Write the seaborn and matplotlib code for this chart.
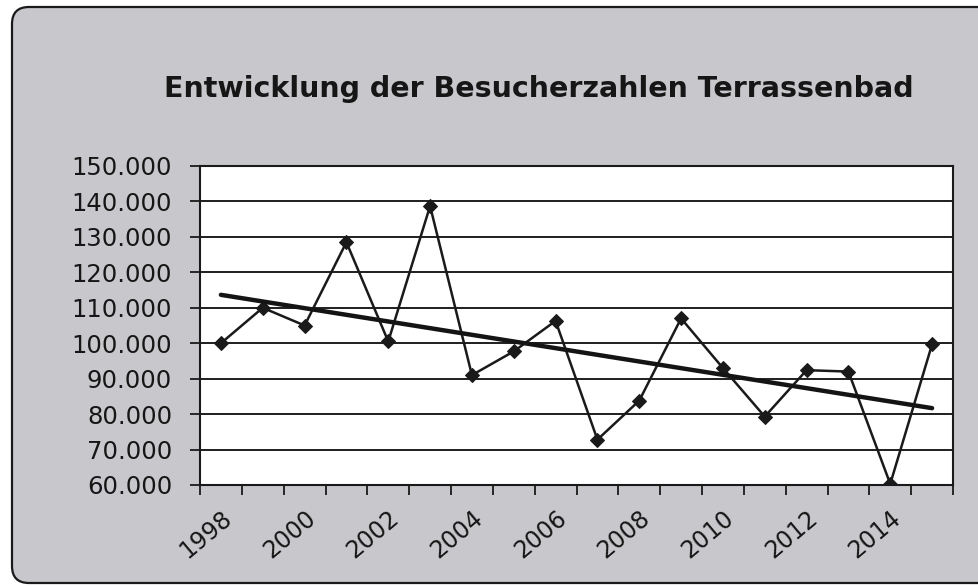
import numpy as np
import pandas as pd
import matplotlib
matplotlib.use("Agg")
import matplotlib.pyplot as plt
from matplotlib.patches import FancyBboxPatch
from matplotlib.ticker import FuncFormatter, FixedLocator, NullFormatter
import seaborn as sns

years = list(range(1998, 2016))
visitors = [100000, 110000, 105000, 128500, 100500, 138700, 91000, 97700, 106300,
            72800, 83800, 107000, 93000, 79300, 92400, 92000, 60300, 99700]
label_years = list(range(1998, 2015, 2))
title = "Entwicklung der Besucherzahlen Terrassenbad"

df = pd.DataFrame({"Jahr": years, "Besucher": visitors})

sns.set_style("white")
plt.rcParams["font.family"] = ["DejaVu Sans"]

fig = plt.figure(figsize=(9.79, 5.86), dpi=100)
fig.patch.set_facecolor("white")

# grey rounded chart area, as in the Excel screenshot
box = FancyBboxPatch((0.12, 0.03), 9.85, 5.76,
                     boxstyle="round,pad=0,rounding_size=0.17",
                     transform=fig.dpi_scale_trans,
                     facecolor="#c8c8cc", edgecolor="#1a1a1a", lw=1.6, zorder=-10)
fig.patches.append(box)

ax = fig.add_axes([200 / 979, 1 - 485 / 586, 753 / 979, 319 / 586])
ax.set_facecolor("white")

sns.lineplot(data=df, x="Jahr", y="Besucher", marker="D", markersize=7.5,
             color="#1a1a1a", linewidth=1.8, markeredgecolor="#1a1a1a", ax=ax)
sns.regplot(data=df, x="Jahr", y="Besucher", scatter=False, ci=None,
            line_kws={"color": "#141414", "linewidth": 3.2}, ax=ax)

ax.set_xlim(1997.5, 2015.5)
ax.set_ylim(60000, 150000)
ax.set_yticks(np.arange(60000, 150001, 10000))
ax.yaxis.set_major_formatter(FuncFormatter(lambda v, p: f"{int(v):,}".replace(",", ".")))
ax.yaxis.grid(True, color="#1e1e1e", linewidth=1.4)
ax.set_axisbelow(True)

# category boundaries get the tick marks, the labels sit on every second year
ax.xaxis.set_major_locator(FixedLocator(np.arange(1997.5, 2016, 1.0)))
ax.xaxis.set_major_formatter(NullFormatter())
ax.xaxis.set_minor_locator(FixedLocator(label_years))
ax.set_xticks(label_years, [str(y) for y in label_years], minor=True)

ax.tick_params(axis="y", which="major", direction="out", length=7, width=1.3,
               color="#1a1a1a", pad=13, labelsize=17.5, labelcolor="#161616", left=True)
ax.tick_params(axis="x", which="major", direction="out", length=7, width=1.3,
               color="#1a1a1a", bottom=True)
ax.tick_params(axis="x", which="minor", length=0, pad=15, labelsize=17,
               labelcolor="#161616", bottom=True)
for lab in ax.get_xticklabels(minor=True):
    lab.set_rotation(40)
    lab.set_ha("right")
    lab.set_va("top")
    lab.set_rotation_mode("anchor")

for s in ax.spines.values():
    s.set_visible(True)
    s.set_color("#1a1a1a")
    s.set_linewidth(1.5)

ax.set_xlabel("")
ax.set_ylabel("")

fig.text(0.55, 1 - 89 / 586, title, ha="center", va="center",
         fontsize=20.5, fontweight="bold", color="#161616")

fig.savefig("out.png", dpi=100)
